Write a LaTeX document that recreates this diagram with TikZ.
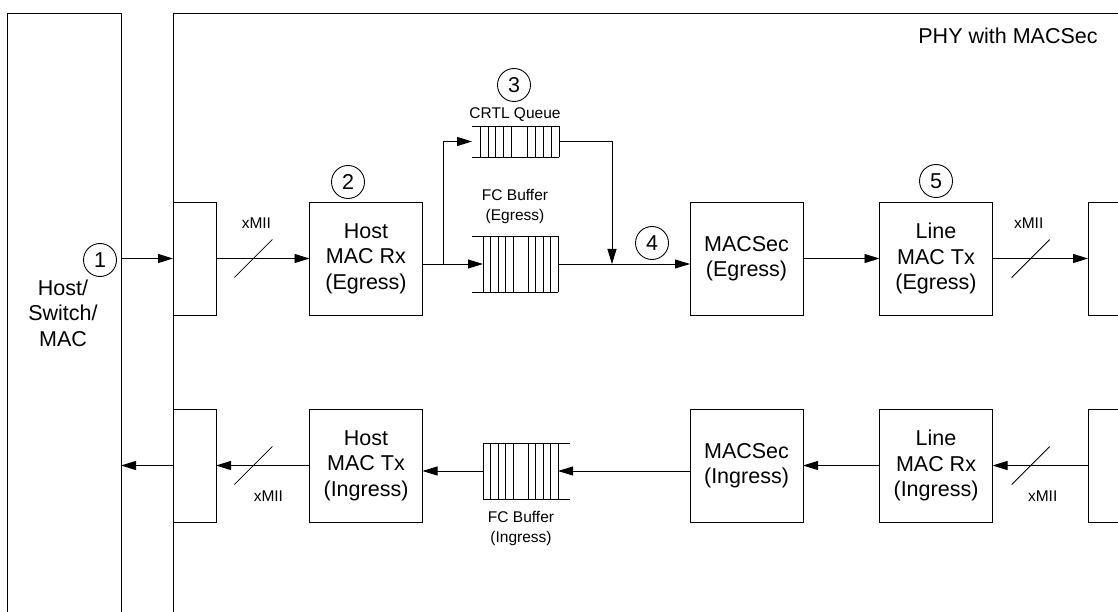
\documentclass[tikz,border=0pt]{standalone}
\usepackage{fontspec}
\setmainfont{Liberation Sans}
\usetikzlibrary{arrows.meta,calc}
\begin{document}
\begin{tikzpicture}[x=1pt,y=-1pt,line width=0.9pt,
  big/.style={font=\fontsize{21.5}{25.5}\selectfont},
  small/.style={font=\fontsize{15.5}{20}\selectfont, align=center},
  box/.style={draw, rectangle, minimum width=113pt, minimum height=113pt, inner sep=0pt, outer sep=0pt, align=center, big},
  frame/.style={draw, rectangle, inner sep=0pt, outer sep=0pt},
  qbox/.style={rectangle, inner sep=0pt, outer sep=0pt},
  circ/.style={draw, circle, minimum size=33pt, inner sep=0pt, big},
  arr/.style={-{Triangle[length=15pt,width=9pt]}},
  slash/.style={line width=0.8pt}
]
\useasboundingbox (0,0) rectangle (1118,612);
\clip (0,0) rectangle (1118,612);

% outer frames
\node[frame, minimum width=114pt, minimum height=654pt] (host) at (64,340) {};
\node[frame, minimum width=987pt, minimum height=654pt] (phy) at (666.5,340) {};
\node[big, align=center] (hosttxt) at (63,313) {Host/\\Switch/\\MAC};
\node[big] (phytxt) at (1008,36) {PHY with MACSec};

% small interface boxes
\node[frame, minimum width=43pt, minimum height=113pt] (lin) at (194.5,258.5) {};
\node[frame, minimum width=43pt, minimum height=113pt] (lout) at (194.5,465.5) {};
\node[frame, minimum width=72pt, minimum height=113pt] (rE) at (1124,258.5) {};
\node[frame, minimum width=72pt, minimum height=113pt] (rI) at (1124,465.5) {};

% main boxes
\node[box] (hrx) at (366,258.5) {Host\\MAC Rx\\(Egress)};
\node[box] (htx) at (366,465.5) {Host\\MAC Tx\\(Ingress)};
\node[box] (msE) at (746.5,258.5) {MACSec\\(Egress)};
\node[box] (msI) at (746.5,465.5) {MACSec\\(Ingress)};
\node[box] (ltx) at (936,258.5) {Line\\MAC Tx\\(Egress)};
\node[box] (lrx) at (936,465.5) {Line\\MAC Rx\\(Ingress)};

% queues
\node[qbox, minimum width=75pt, minimum height=56pt] (fcE) at (520.5,264) {};
\draw ([xshift=-11pt]fcE.north west) -- (fcE.north east)
      ([xshift=-11pt]fcE.south west) -- (fcE.south east);
\foreach \o in {0,7.5,15,22.5,30,45,52.5,60,67.5,75}
  \draw ([xshift=\o pt]fcE.north west) -- ([xshift=\o pt]fcE.south west);

\node[qbox, minimum width=75pt, minimum height=56pt] (fcI) at (520.5,471) {};
\draw (fcI.north west) -- ([xshift=12pt]fcI.north east)
      (fcI.south west) -- ([xshift=12pt]fcI.south east);
\foreach \o in {0,7.5,15,22.5,30,45,52.5,60,67.5,75}
  \draw ([xshift=\o pt]fcI.north west) -- ([xshift=\o pt]fcI.south west);

\node[qbox, minimum width=79pt, minimum height=31pt] (crtl) at (519.5,141.5) {};
\draw ([xshift=-8pt]crtl.north west) -- (crtl.north east)
      ([xshift=-8pt]crtl.south west) -- (crtl.south east);
\foreach \o in {0,8,15.5,23,31,47,55,63,71,79}
  \draw ([xshift=\o pt]crtl.north west) -- ([xshift=\o pt]crtl.south west);

% labels
\node[small] (crtltxt) at (515,115) {CRTL Queue};
\node[small] (fcEtxt) at (515,207) {FC Buffer\\(Egress)};
\node[small] (fcItxt) at (521,528) {FC Buffer\\(Ingress)};

% circles
\node[circ] (c1) at (100,260) {1};
\node[circ] (c2) at (348,182) {2};
\node[circ] (c3) at (514,85) {3};
\node[circ] (c4) at (652,243) {4};
\node[circ] (c5) at (936,181) {5};

% egress path
\draw[arr] (lin.west -| host.east) -- (lin.west);
\draw[arr] (lin.east) -- (hrx.west);
\coordinate (s1) at ($(lin.east)!0.4!(hrx.west)$);
\draw[slash] ($(s1)+(-19,19)$) -- ($(s1)+(19,-19)$);
\node[small] (x1) at ($(s1)+(3,-35)$) {xMII};

\draw[arr] (fcE.west -| hrx.east) -- (fcE.west);
\coordinate (br) at (443,264);
\draw[arr] (br) |- ([xshift=-8pt]crtl.west);
\coordinate (jn) at (612,264);
\draw[arr] (crtl.east) -| (jn);
\draw[arr] (fcE.east) -- (fcE.east -| msE.west);
\draw[arr] (msE.east) -- (ltx.west);
\draw[arr] (ltx.east) -- (rE.west);
\coordinate (s2) at ($(ltx.east)!0.4!(rE.west)$);
\draw[slash] ($(s2)+(-19,19)$) -- ($(s2)+(19,-19)$);
\node[small] (x2) at ($(s2)+(-2,-35)$) {xMII};

% ingress path
\draw[arr] (rI.west) -- (lrx.east);
\coordinate (s3) at ($(lrx.east)!0.4!(rI.west)$);
\draw[slash] ($(s3)+(-19,19)$) -- ($(s3)+(19,-19)$);
\node[small] (x3) at ($(s3)+(12,31)$) {xMII};
\draw[arr] (lrx.west) -- (msI.east);
\draw[arr] (fcI.east -| msI.west) -- (fcI.east);
\draw[arr] (fcI.west) -- (fcI.west -| htx.east);
\draw[arr] (htx.west) -- (lout.east);
\coordinate (s4) at ($(lout.east)!0.4!(htx.west)$);
\draw[slash] ($(s4)+(-19,19)$) -- ($(s4)+(19,-19)$);
\node[small] (x4) at ($(s4)+(15,31)$) {xMII};
\draw[arr] (lout.west) -- (lout.west -| host.east);
\end{tikzpicture}
\end{document}
